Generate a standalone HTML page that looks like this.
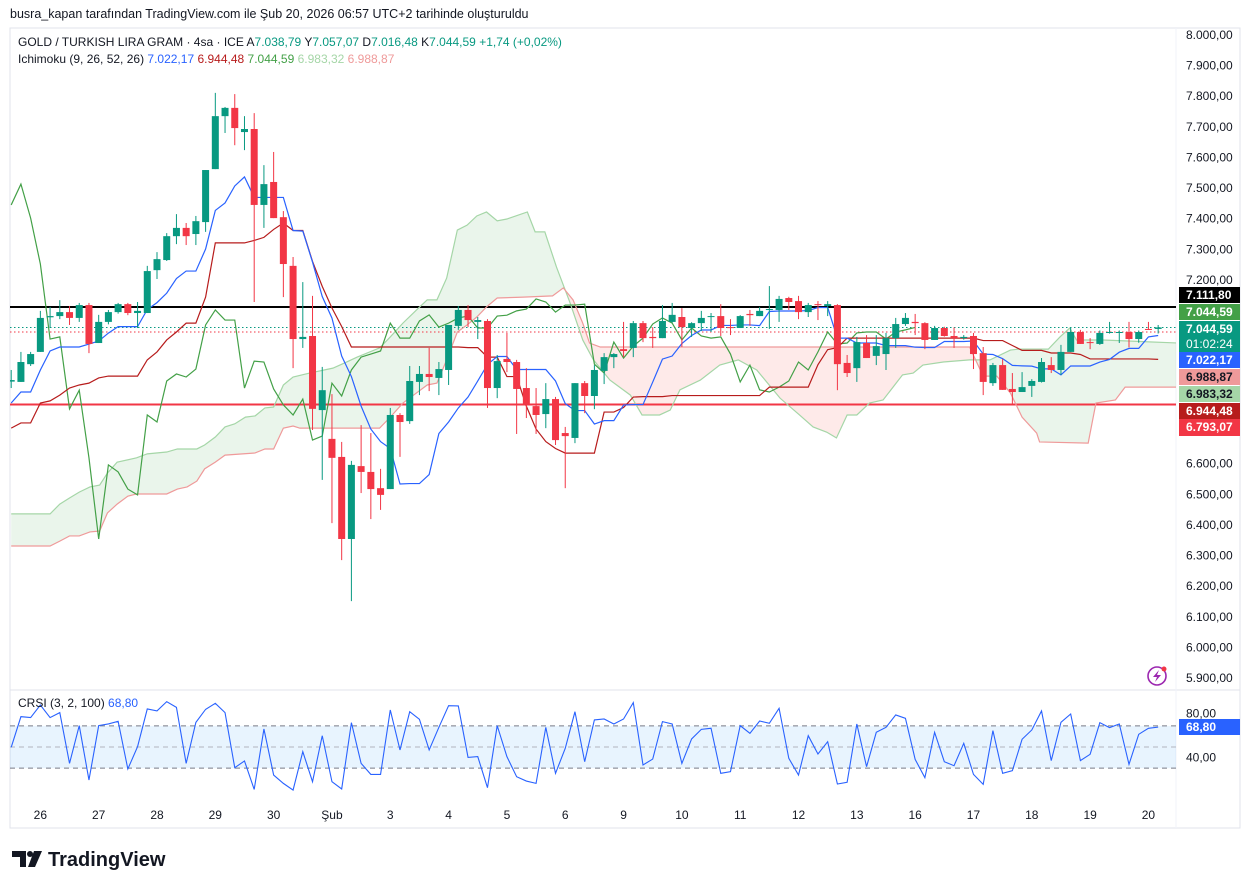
<!DOCTYPE html>
<html><head><meta charset="utf-8">
<style>
body{margin:0;background:#fff;width:1254px;height:889px;overflow:hidden;font-family:"Liberation Sans",sans-serif;}
svg text{font-family:"Liberation Sans","DejaVu Sans",sans-serif;}
</style></head>
<body>
<svg id="chart" width="1254" height="889" viewBox="0 0 1254 889" xmlns="http://www.w3.org/2000/svg">
<defs><clipPath id="plotclip"><rect x="10" y="28" width="1166" height="662"/></clipPath>
<clipPath id="crsiclip"><rect x="10" y="691" width="1166" height="110"/></clipPath></defs>
<text x="10" y="18" font-size="12.5" fill="#131722">busra_kapan tarafından TradingView.com ile Şub 20, 2026 06:57 UTC+2 tarihinde oluşturuldu</text>
<rect x="10" y="28" width="1230" height="800" fill="none" stroke="#e0e3eb"/>
<line x1="10" y1="690" x2="1240" y2="690" stroke="#e0e3eb"/>
<line x1="1176" y1="28" x2="1176" y2="828" stroke="#f0f3fa"/>
<g id="cloud" clip-path="url(#plotclip)"></g>
<g id="levels" clip-path="url(#plotclip)"></g>
<g id="lines" clip-path="url(#plotclip)"></g>
<g id="candles" clip-path="url(#plotclip)"></g>
<g id="crsi"></g>
<g id="axis"></g>
<g id="labels"></g>
<text x="18" y="46" font-size="12" fill="#131722">GOLD / TURKISH LIRA GRAM · 4sa · ICE  A<tspan fill="#089981">7.038,79</tspan>  Y<tspan fill="#089981">7.057,07</tspan>  D<tspan fill="#089981">7.016,48</tspan>  K<tspan fill="#089981">7.044,59</tspan>  <tspan fill="#089981">+1,74 (+0,02%)</tspan></text>
<text x="18" y="63" font-size="12" fill="#131722">Ichimoku (9, 26, 52, 26)  <tspan fill="#2962ff">7.022,17</tspan>  <tspan fill="#b71c1c">6.944,48</tspan>  <tspan fill="#43a047">7.044,59</tspan>  <tspan fill="#a5d6a7">6.983,32</tspan>  <tspan fill="#ef9a9a">6.988,87</tspan></text>
<text x="18" y="707" font-size="12" fill="#131722">CRSI (3, 2, 100)  <tspan fill="#2962ff">68,80</tspan></text>
<g><circle cx="1157" cy="676" r="9" fill="none" stroke="#9c27b0" stroke-width="1.6"/><path d="M1159 670 L1153 677 L1157 677 L1155 682 L1161 675 L1157 675 Z" fill="#9c27b0"/><circle cx="1164" cy="669" r="2.5" fill="#f23645"/></g>
<g><path d="M12 851 H26 V867 H20 V857 H12 Z" fill="#131722"/><circle cx="30" cy="854" r="3" fill="#131722"/><path d="M34 851 H42 L35 867 H28 Z" fill="#131722"/>
<text x="48" y="866" font-size="20" font-weight="bold" fill="#131722">TradingView</text></g>
</svg>
<script>
const opens=[6868,6867,6925,6965,7078,7082,7095,7076,7118,6994,7063,7095,7121,7092,7092,7232,7265,7343,7370,7350,7389,7562,7735,7762,7683,7693,7445,7520,7405,7246,7007,7017,6775,6681,6622,6354,6592,6573,6520,6517,6759,6739,6867,6893,6880,6906,7050,7102,7063,7066,6847,6942,6932,6847,6788,6762,6811,6700,6684,6863,6821,6903,6948,6974,6978,7059,7014,7010,7063,7079,7043,7059,7079,7082,7046,7043,7089,7082,7102,7102,7141,7131,7095,7121,7115,7118,6929,6912,6994,6952,6958,7010,7056,7063,7059,7004,7043,7017,7010,7017,6961,6863,6922,6844,6834,6854,6867,6922,6906,6965,7030,6997,6991,7027,7028,7030,7007,7040,7040];
const highs=[6906,6965,6965,7099,7112,7134,7115,7125,7125,7086,7102,7125,7125,7128,7246,7291,7353,7415,7386,7409,7559,7811,7765,7807,7735,7745,7575,7618,7425,7275,7193,7148,6916,6827,6671,6609,6726,6700,6583,6782,6765,6919,6919,6978,6932,7053,7115,7118,7079,7072,6955,7027,6939,6912,6847,6863,6818,6720,6863,6870,6922,6961,6961,7063,7066,7066,7046,7118,7125,7108,7062,7099,7092,7121,7072,7085,7102,7112,7180,7148,7145,7148,7125,7131,7131,7121,6955,7014,7020,7020,7027,7076,7092,7089,7062,7050,7047,7045,7020,7027,6981,6929,6942,6896,6899,6876,6945,6948,6988,7046,7037,7010,7035,7063,7035,7063,7035,7063,7053];
const lows=[6847,6867,6919,6965,7043,7072,7053,7063,6961,6994,7055,7090,7085,7043,7092,7203,7262,7317,7314,7314,7357,7562,7680,7640,7624,7128,7370,7402,7144,6912,6978,6710,6547,6406,6285,6151,6504,6419,6449,6517,6622,6730,6824,6837,6824,6857,7037,7046,7007,6782,6814,6899,6697,6749,6697,6716,6661,6520,6667,6765,6778,6860,6912,6948,6948,6997,6978,7010,7060,6981,7014,7033,7030,7017,7020,7043,7050,7082,7040,7063,7102,7072,7079,7069,7082,6840,6883,6867,6945,6922,6906,6978,7050,7020,6974,7004,7015,6978,7005,6909,6824,6854,6841,6792,6834,6818,6865,6896,6890,6965,6991,6974,6988,7025,6994,6980,6995,7037,7025];
const closes=[6873,6932,6958,7076,7082,7095,7076,7118,6991,7063,7095,7121,7092,7099,7229,7268,7343,7370,7343,7392,7559,7735,7762,7696,7693,7445,7513,7402,7252,7007,7014,6779,6840,6619,6354,6596,6573,6517,6498,6759,6736,6870,6893,6883,6909,7053,7102,7069,7069,6847,6935,6932,6844,6792,6759,6811,6677,6690,6863,6821,6906,6948,6958,6968,7059,7010,7010,7066,7086,7046,7059,7076,7082,7043,7043,7082,7085,7099,7105,7138,7128,7095,7118,7118,7121,6925,6896,6997,6945,6984,7010,7056,7076,7059,7004,7043,7017,7010,7014,6958,6867,6922,6841,6834,6850,6870,6932,6906,6965,7030,6991,6994,7027,7030,7030,7007,7030,7037,7045];
const tenkanEarly=[6798,6834,6834,6906,6968,6981,6981,6981];
const kijunEarly=[6716,6733,6733,6798,6805,6824,6847,6857,6863,6880,6886,6886,6886,6886,6939,6965,7004,7030,7059,7059,7144,7321,7321,7321,7321];
const spanAIdx=[0,4,5,6,7,8.1,9.1,9.9,10.9,12.9,14,16,17.1,19.1,19.9,21,22,23,24.1,25.1,26.1,27,28,29,30.7,33.1,34.3,35.6,37.9,39,40.3,41.7,42.8,43.8,44.8,45.9,46.9,47.9,48.9,50,51,53.1,53.9,54.9,56.1,57.5,58.8,59.9,61.6,63.7,64.9,66.7,67.8,68.8,70.9,72.9,74.8,76.7,79.1,81.1,82.5,83.9,84.9,86,87,88.3,89.7,91.7,92.8,93.8,95.9,98.6,100.7,102.8,103.6,106.7,107.9,108.9,109.6,112.3,120];
const spanA=[6436,6436,6468,6488,6507,6524,6530,6569,6605,6619,6632,6638,6648,6648,6661,6687,6720,6730,6752,6756,6782,6785,6857,6883,6896,6912,6929,6948,6978,7014,7059,7102,7135,7135,7206,7363,7379,7409,7422,7393,7399,7422,7357,7357,7242,7125,7004,6939,6873,6824,6759,6759,6775,6841,6873,6922,6939,6906,6814,6759,6720,6703,6684,6759,6759,6798,6808,6890,6896,6922,6932,6939,6939,6971,6974,6974,7014,7043,7004,7004,6994];
const spanBIdx=[0,4,5,6,7,8.1,9.1,9.9,10.9,12,12.9,16,17.1,18.1,19.1,19.9,21,22,25.1,26.1,27,28,29,29.7,37.9,39,40.3,41.7,42.8,43.8,44.8,45.9,46.9,47.9,48.9,50,52.7,55.7,56.8,57.8,58.8,59.5,60.6,98.6,100,101.4,102.8,104,105.5,105.8,110.8,111.6,113.6,114.6,120];
const spanB=[6331,6331,6347,6364,6364,6377,6380,6439,6468,6494,6501,6501,6517,6524,6543,6583,6605,6628,6635,6648,6648,6716,6723,6716,6716,6752,6798,6831,6857,6863,6939,7030,7053,7079,7112,7141,7144,7148,7174,7135,7059,6994,6981,6981,6886,6886,6831,6752,6700,6671,6667,6798,6808,6850,6850];
const crsiValues=[49.7,78.7,77.8,89.7,77.8,82.5,34.5,70.2,18.8,70.2,71.8,74.3,29.2,50.3,86,84.1,92.9,87.5,34.5,73.3,85.6,91.3,82.5,30.4,36.8,9.9,67,23.5,15.6,9.3,45.6,17.2,60.7,17.2,10.3,73,34.5,24.1,24.1,85,47.2,83.4,76.2,47.2,68.6,89.1,88.8,40.2,40.9,11.5,70.2,40.9,21.9,17.8,15.6,68.6,25.1,48.7,83.4,36.1,75.6,76.5,71.8,76.5,92,33,38.6,74,71.8,34.5,57.6,66.7,67.7,25.1,26.7,70.2,62.9,74.6,72.4,86.6,39.3,23.5,60.7,43.4,55,15,16.6,71.8,31.4,63.9,68.6,80.3,77.1,38.3,21,63.9,36.1,32.3,53.5,24.1,14.7,65.5,25.1,27.6,57.3,66.1,84.1,37.1,73.3,81.2,37.1,43.1,73,68.3,71.8,33.6,62,67.7,68.8];
const priceTicks=[8000,7900,7800,7700,7600,7500,7400,7300,7200,6600,6500,6400,6300,6200,6100,6000,5900];
const crsiTicks=[80,40];
const dayLabels=["26","27","28","29","30","Şub","3","4","5","6","9","10","11","12","13","16","17","18","19","20"];
const resistanceLevel=7111.80, supportLevel=6793.07, lastPrice=7044.59, prevClose=7030;

const NS="http://www.w3.org/2000/svg";
const xOf=i=>11.2+9.72*i;
const yP=p=>35+(8000-p)*0.30619;
const yC=v=>747-(v-50)*1.0575;
const fmt=v=>{const s=v.toFixed(2).split('.');return s[0].replace(/\B(?=(\d{3})+(?!\d))/g,'.')+','+s[1];};
function mk(tag,attrs,parent){const e=document.createElementNS(NS,tag);for(const k in attrs)e.setAttribute(k,attrs[k]);parent.appendChild(e);return e;}
function interp(xs,vs,t){if(t<=xs[0])return vs[0];for(let k=1;k<xs.length;k++){if(t<=xs[k]){const f=(t-xs[k-1])/(xs[k]-xs[k-1]);return vs[k-1]+f*(vs[k]-vs[k-1]);}}return vs[vs.length-1];}

// cloud: contiguous polygons per sign region
const gCloud=document.getElementById('cloud');
const ts=[];for(let t=0;t<=120.5;t+=0.25)ts.push(t);
let seg=[];let segGreen=null;
function flush(){
  if(seg.length<2){return;}
  const top=seg.map(t=>`${xOf(t)},${yP(interp(spanAIdx,spanA,t))}`);
  const bot=seg.slice().reverse().map(t=>`${xOf(t)},${yP(interp(spanBIdx,spanB,t))}`);
  const q=mk('polygon',{points:top.concat(bot).join(' '),fill:segGreen?'rgba(67,160,71,0.11)':'rgba(244,67,54,0.11)'},gCloud);
  
  
}
ts.forEach(t=>{
  const g=interp(spanAIdx,spanA,t)>=interp(spanBIdx,spanB,t);
  if(segGreen===null)segGreen=g;
  if(g!==segGreen){seg.push(t);flush();seg=[seg[seg.length-2]];segGreen=g;}
  seg.push(t);
});
flush();
function polyFrom(xs,vs,color,name,w){
  const pts=xs.map((x,k)=>`${xOf(x)},${yP(vs[k])}`).join(' ');
  const p=mk('polyline',{points:pts,fill:'none',stroke:color,'stroke-width':w||1.2},document.getElementById('lines'));
  
  
}
polyFrom(spanAIdx,spanA,'#a5d6a7','senkou-span-a');
polyFrom(spanBIdx,spanB,'#ef9a9a','senkou-span-b');

// levels
const gL=document.getElementById('levels');
const l1=mk('line',{x1:10,x2:1176,y1:yP(resistanceLevel),y2:yP(resistanceLevel),stroke:'#000','stroke-width':2},gL);


const l2=mk('line',{x1:10,x2:1176,y1:yP(supportLevel),y2:yP(supportLevel),stroke:'#f23645','stroke-width':2},gL);


const l3=mk('line',{x1:10,x2:1176,y1:yP(lastPrice),y2:yP(lastPrice),stroke:'#089981','stroke-width':1,'stroke-dasharray':'1.5 2.5'},gL);


const l4=mk('line',{x1:10,x2:1176,y1:yP(prevClose),y2:yP(prevClose),stroke:'#f23645','stroke-width':1,'stroke-dasharray':'1.5 2.5'},gL);



// ichimoku lines
const n=closes.length;
const idxs=[...Array(n).keys()];
const tenkan=idxs.map(i=>i<8?tenkanEarly[i]:(Math.max(...highs.slice(i-8,i+1))+Math.min(...lows.slice(i-8,i+1)))/2);
const kijun=idxs.map(i=>i<25?kijunEarly[i]:(Math.max(...highs.slice(i-25,i+1))+Math.min(...lows.slice(i-25,i+1)))/2);
const chIdx=idxs.filter(i=>i+25<n);
const chikou=chIdx.map(i=>closes[i+25]);
polyFrom(chIdx,chikou,'#43a047','chikou-span');
polyFrom(idxs,kijun,'#b71c1c','kijun-sen');
polyFrom(idxs,tenkan,'#2962ff','tenkan-sen');

// candles
const gC=document.getElementById('candles');
for(let i=0;i<n;i++){
  const up=closes[i]>=opens[i];const col=up?'#089981':'#f23645';
  const g=mk('g',{},gC);
  
  
  const x=xOf(i);
  mk('line',{x1:x,x2:x,y1:yP(highs[i]),y2:yP(lows[i]),stroke:col,'stroke-width':1},g);
  const yt=yP(Math.max(opens[i],closes[i])),yb=yP(Math.min(opens[i],closes[i]));
  mk('rect',{x:x-3.5,y:yt,width:7,height:Math.max(1,yb-yt),fill:col},g);
}

// crsi
const gR=document.getElementById('crsi');
const band=mk('rect',{x:10,y:yC(70),width:1166,height:yC(30)-yC(70),fill:'rgba(33,150,243,0.1)'},gR);


[[70,'#787b86'],[50,'#b2b5be'],[30,'#787b86']].forEach(([v,c])=>{
  const d=mk('line',{x1:10,x2:1176,y1:yC(v),y2:yC(v),stroke:c,'stroke-dasharray':'5 4'},gR);
  
  
});
const cl=mk('polyline',{points:crsiValues.map((v,i)=>`${xOf(i)},${yC(v)}`).join(' '),fill:'none',stroke:'#2962ff','stroke-width':1.1,'clip-path':'url(#crsiclip)'},gR);



// axes
const gA=document.getElementById('axis');
priceTicks.forEach(p=>{
  const t=mk('text',{x:1186,y:yP(p)+4,'font-size':12,fill:'#131722'},gA);t.textContent=fmt(p);
  
  
});
crsiTicks.forEach(v=>{
  const t=mk('text',{x:1186,y:yC(v)+4+(v===80?-2:0),'font-size':12,fill:'#131722'},gA);t.textContent=fmt(v);
  
  
});
dayLabels.forEach((d,k)=>{
  const t=mk('text',{x:xOf(3+6*k),y:819,'font-size':12,fill:'#131722','text-anchor':'middle'},gA);t.textContent=d;
  
  
});

// price labels
const gB=document.getElementById('labels');
const boxes=[[287,16,'#000','#fff',[fmt(resistanceLevel)]],[304,16,'#43a047','#fff',[fmt(lastPrice)]],[321,31,'#089981','#fff',[fmt(lastPrice),'01:02:24']],[352,16,'#2962ff','#fff',['7.022,17']],[369,16,'#ef9a9a','#131722',['6.988,87']],[386,16,'#a5d6a7','#131722',['6.983,32']],[403,16,'#b71c1c','#fff',['6.944,48']],[419,17,'#f23645','#fff',[fmt(supportLevel)]],[719,16,'#2962ff','#fff',['68,80']]];
boxes.forEach(([y,h,bg,fg,lines])=>{
  const g=mk('g',{},gB);
  
  
  mk('rect',{x:1179,y:y,width:61,height:h,fill:bg},g);
  lines.forEach((s,k)=>{const t=mk('text',{x:1186,y:y+12+k*15,'font-size':12,fill:fg,'font-weight':k===0?'bold':'normal'},g);t.textContent=s;});
});
</script>
</body></html>
